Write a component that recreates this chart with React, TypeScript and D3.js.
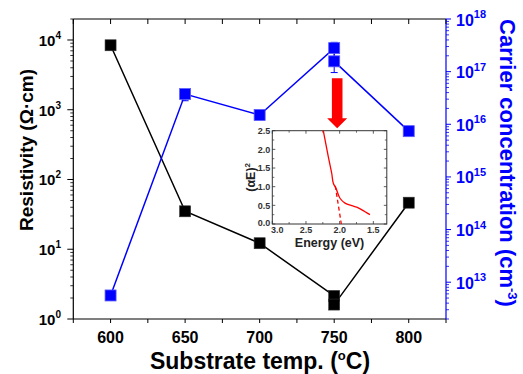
import React from "react";
import * as d3 from "d3";

// ---------- data ----------
const temps = [600, 650, 700, 750, 750, 800];
const resistivity = [8400, 35, 12.2, 2.14, 1.61, 46.5];
const carrier = [5.6e12, 3.75e16, 1.5e16, 2.8e17, 1.57e17, 7.4e15];
const carrierErrLow: (number | null)[] = [null, 2.8e16, null, null, 9.6e16, null];
const carrierErrHigh: (number | null)[] = [null, null, null, 3.6e17, null, null];
const xTicks = [600, 650, 700, 750, 800];
const xMinorTicks = [575, 600, 625, 650, 675, 700, 725, 750, 775, 800, 825];
const leftExps = [0, 1, 2, 3, 4];
const rightExps = [13, 14, 15, 16, 17, 18];

// inset: (alpha E)^2 vs Energy
const insetE = [2.243, 2.168, 2.118, 2.094, 2.054, 1.995, 1.92, 1.82, 1.747, 1.67, 1.55];
const insetAbs = [2.5, 1.8, 1.36, 1.09, 0.955, 0.69, 0.56, 0.49, 0.45, 0.38, 0.25];
const dashE = [2.065, 1.975];
const dashAbs = [1.02, 0];
const insetXTicks = [3.0, 2.5, 2.0, 1.5];
const insetXMinor = [2.75, 2.25, 1.75];
const insetYTicks = [0, 0.5, 1.0, 1.5, 2.0, 2.5];
const insetYMinor = [0.25, 0.75, 1.25, 1.75, 2.25];

const W = 523, H = 374;
const L = 73.3, R = 446, T = 19, B = 319;
const FONT = "'Liberation Sans', Arial, Helvetica, sans-serif";
const BLUE = "#0000ff";

function logMinor(lo: number, hi: number) {
  const out: number[] = [];
  for (let d = Math.floor(Math.log10(lo)); d <= Math.ceil(Math.log10(hi)); d++) {
    for (let m = 2; m <= 9; m++) {
      const v = m * Math.pow(10, d);
      if (v >= lo * 0.999 && v <= hi * 1.001) out.push(v);
    }
  }
  return out;
}

export default function App() {
  const x = d3.scaleLinear().domain([575, 825]).range([L, R]);
  const yL = d3.scaleLog().domain([1, 2e4]).range([B, T]);
  const yR = d3.scaleLog().domain([2e12, 1e18]).range([B, T]);

  const lineL = d3.line<number>().x((_, i) => x(temps[i])).y((d) => yL(d));
  const lineR = d3.line<number>().x((_, i) => x(temps[i])).y((d) => yR(d));

  // inset scales
  const iL = 272.3, iR = 386.8, iT = 130.7, iB = 224;
  const ix = d3.scaleLinear().domain([3.0, 1.3]).range([iL, iR]);
  const iy = d3.scaleLinear().domain([0, 2.5]).range([iB, iT]);
  const insetLine = d3.line<number>().x((_, i) => ix(insetE[i])).y((d) => iy(d)).curve(d3.curveCatmullRom);
  const dashLine = d3.line<number>().x((_, i) => ix(dashE[i])).y((d) => iy(d));

  const ms = 11;

  // arrow
  const ax = x(750) + 3;
  const arrowTop = 78.3, headY = 118.3, tipY = 128.3;

  return (
    <svg width={W} height={H} style={{ position: "absolute", left: 0, top: 0, background: "#fff" }} fontFamily={FONT}>
      <rect width={W} height={H} fill="#fff" />
      {/* frame */}
      <line x1={L} y1={T} x2={R} y2={T} stroke="#000" strokeWidth={1.2} />
      <line x1={L} y1={B} x2={R} y2={B} stroke="#000" strokeWidth={1.2} />
      <line x1={L} y1={T} x2={L} y2={B} stroke="#000" strokeWidth={1.2} />
      <line x1={R} y1={T} x2={R} y2={B} stroke={BLUE} strokeWidth={1.2} />

      {/* x ticks */}
      {xMinorTicks.map((t) => (
        <g key={"xt" + t}>
          <line x1={x(t)} x2={x(t)} y1={B} y2={B + 4} stroke="#000" strokeWidth={1} />
          <line x1={x(t)} x2={x(t)} y1={T} y2={T + 5} stroke="#000" strokeWidth={1} />
        </g>
      ))}
      {xTicks.map((t) => (
        <text key={"xl" + t} x={x(t)} y={342.5} fontSize={16} fontWeight="bold" textAnchor="middle" fill="#000">
          {t}
        </text>
      ))}

      {/* left axis ticks */}
      {leftExps.map((e) => (
        <g key={"le" + e}>
          <line x1={L - 6} x2={L} y1={yL(Math.pow(10, e))} y2={yL(Math.pow(10, e))} stroke="#000" strokeWidth={1} />
          <text x={61} y={yL(Math.pow(10, e)) + 6} fontSize={15} fontWeight="bold" textAnchor="end" fill="#000">
            10<tspan dy={-7} fontSize={10}>{e}</tspan>
          </text>
        </g>
      ))}
      {logMinor(1, 2e4).map((v, i) => (
        <line key={"lm" + i} x1={L - 3} x2={L} y1={yL(v)} y2={yL(v)} stroke="#000" strokeWidth={0.8} />
      ))}

      {/* right axis ticks */}
      {rightExps.map((e) => (
        <g key={"re" + e}>
          <line x1={R} x2={R + 5} y1={yR(Math.pow(10, e))} y2={yR(Math.pow(10, e))} stroke={BLUE} strokeWidth={1} />
          <text x={456} y={yR(Math.pow(10, e)) + 6.5} fontSize={16} fontWeight="bold" textAnchor="start" fill={BLUE}>
            10<tspan dy={-7.5} fontSize={11}>{e}</tspan>
          </text>
        </g>
      ))}
      {logMinor(2e12, 1e18).map((v, i) => (
        <line key={"rm" + i} x1={R} x2={R + 3} y1={yR(v)} y2={yR(v)} stroke={BLUE} strokeWidth={0.8} />
      ))}

      {/* axis titles */}
      <text transform={`translate(33,150) rotate(-90)`} fontSize={19} fontWeight="bold" textAnchor="middle" fill="#000">
        Resistivity (Ω·cm)
      </text>
      <text transform={`translate(500,163) rotate(90)`} fontSize={22} fontWeight="bold" textAnchor="middle" fill={BLUE}>
        Carrier concentration (cm<tspan dy={-8} fontSize={13}>-3</tspan><tspan dy={8}>)</tspan>
      </text>
      <text x={260} y={369} fontSize={23} fontWeight="bold" textAnchor="middle" fill="#000">
        Substrate temp. (<tspan dy={-9} fontSize={13}>o</tspan><tspan dy={9}>C)</tspan>
      </text>

      {/* lines */}
      <path d={lineL(resistivity) || ""} fill="none" stroke="#000" strokeWidth={1.5} />
      <path d={lineR(carrier) || ""} fill="none" stroke={BLUE} strokeWidth={1.5} />

      {/* error bars */}
      {carrier.map((v, i) => {
        const cx = x(temps[i]);
        const els: any[] = [];
        const lo = carrierErrLow[i];
        const hi = carrierErrHigh[i];
        if (lo != null) {
          els.push(<line key={"el" + i} x1={cx} x2={cx} y1={yR(v)} y2={yR(lo)} stroke={BLUE} strokeWidth={1} />);
          els.push(<line key={"elc" + i} x1={cx - 3.5} x2={cx + 3.5} y1={yR(lo)} y2={yR(lo)} stroke={BLUE} strokeWidth={1} />);
        }
        if (hi != null) {
          els.push(<line key={"eh" + i} x1={cx} x2={cx} y1={yR(v)} y2={yR(hi)} stroke={BLUE} strokeWidth={1} />);
          els.push(<line key={"ehc" + i} x1={cx - 3.5} x2={cx + 3.5} y1={yR(hi)} y2={yR(hi)} stroke={BLUE} strokeWidth={1} />);
        }
        return <g key={"eb" + i}>{els}</g>;
      })}

      {/* markers */}
      {resistivity.map((v, i) => (
        <rect key={"bm" + i} x={x(temps[i]) - ms / 2} y={yL(v) - ms / 2} width={ms} height={ms} fill="#000" stroke="#333" strokeWidth={0.6} />
      ))}
      {carrier.map((v, i) => (
        <rect key={"rm2" + i} x={x(temps[i]) - ms / 2} y={yR(v) - ms / 2} width={ms} height={ms} fill={BLUE} stroke="#5a5aff" strokeWidth={0.8} />
      ))}

      {/* red arrow */}
      <polygon
        points={`${ax - 5.3},${arrowTop} ${ax + 5.3},${arrowTop} ${ax + 5.3},${headY} ${ax + 10},${headY} ${ax},${tipY} ${ax - 10},${headY} ${ax - 5.3},${headY}`}
        fill="#ff0000"
      />

      {/* inset */}
      <g>
        <rect x={iL} y={iT} width={iR - iL} height={iB - iT} fill="#fff" stroke="#333" strokeWidth={1} />
        {insetXTicks.map((t) => (
          <g key={"ixt" + t}>
            <line x1={ix(t)} x2={ix(t)} y1={iB} y2={iB - 3} stroke="#333" strokeWidth={0.8} />
            <line x1={ix(t)} x2={ix(t)} y1={iT} y2={iT + 3} stroke="#333" strokeWidth={0.8} />
            <text x={ix(t) + (t === 3.0 ? 5 : 0)} y={232.5} fontSize={9} fontWeight="bold" textAnchor="middle" fill="#333">
              {t.toFixed(1)}
            </text>
          </g>
        ))}
        {insetXMinor.map((t) => (
          <g key={"ixm" + t}>
            <line x1={ix(t)} x2={ix(t)} y1={iB} y2={iB - 2} stroke="#333" strokeWidth={0.7} />
            <line x1={ix(t)} x2={ix(t)} y1={iT} y2={iT + 2} stroke="#333" strokeWidth={0.7} />
          </g>
        ))}
        {insetYTicks.map((t) => (
          <g key={"iyt" + t}>
            <line x1={iL} x2={iL + 3} y1={iy(t)} y2={iy(t)} stroke="#333" strokeWidth={0.8} />
            <line x1={iR} x2={iR - 3} y1={iy(t)} y2={iy(t)} stroke="#333" strokeWidth={0.8} />
            <text x={iL - 2} y={iy(t) + 3.2 - (t === 0 ? 1 : 0)} fontSize={9} fontWeight="bold" textAnchor="end" fill="#333">
              {t.toFixed(1)}
            </text>
          </g>
        ))}
        {insetYMinor.map((t) => (
          <g key={"iym" + t}>
            <line x1={iL} x2={iL + 2} y1={iy(t)} y2={iy(t)} stroke="#333" strokeWidth={0.7} />
            <line x1={iR} x2={iR - 2} y1={iy(t)} y2={iy(t)} stroke="#333" strokeWidth={0.7} />
          </g>
        ))}
        <path d={insetLine(insetAbs) || ""} fill="none" stroke="#ff0000" strokeWidth={1.3} />
        <path d={dashLine(dashAbs) || ""} fill="none" stroke="#ff0000" strokeWidth={1.3} strokeDasharray="4,3" />
        <text x={(iL + iR) / 2} y={246.5} fontSize={12.5} fontWeight="bold" textAnchor="middle" fill="#222">
          Energy (eV)
        </text>
        <text transform={`translate(255,${(iT + iB) / 2}) rotate(-90)`} fontSize={12.5} fontWeight="bold" textAnchor="middle" fill="#222">
          (αE)<tspan dy={-5} fontSize={8}>2</tspan>
        </text>
      </g>
    </svg>
  );
}
